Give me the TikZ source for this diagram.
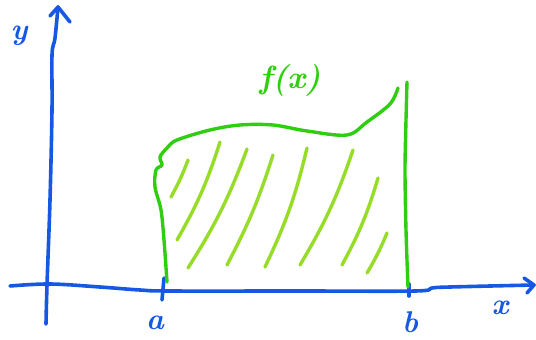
\documentclass[tikz,border=0pt]{standalone}
\usepackage{xcolor}
\definecolor{axisblue}{RGB}{22,88,228}
\definecolor{curvegreen}{RGB}{48,206,16}
\definecolor{hatchgreen}{RGB}{150,220,40}
\begin{document}
\begin{tikzpicture}[x=1pt,y=-1pt,
  axisline/.style={draw=axisblue,line width=3.6pt,line cap=round,line join=round},
  curveline/.style={draw=curvegreen,line width=3.4pt,line cap=round,line join=round},
  hatchline/.style={draw=hatchgreen,line width=3.4pt,line cap=round},
  axislabel/.style={text=axisblue,font=\fontsize{30}{32}\selectfont\bfseries\itshape,inner sep=0pt},
  funclabel/.style={text=curvegreen,font=\fontsize{32}{34}\selectfont\itshape\bfseries,inner sep=0pt}]
\useasboundingbox (0,0) rectangle (536,340);
% named points
\coordinate (xstart) at (10,286);
\coordinate (xend) at (534,285);
\coordinate (ybot) at (46,324);
\coordinate (ytop) at (58,7);
% x-axis
\draw[axisline] plot[smooth,tension=0.6] coordinates {(10,286) (50,284) (100,287) (140,290) (170,291) (300,291) (415,291) (432,288) (450,287) (534,285)};
\draw[axisline] (524,278) -- (xend) -- (527,293);
% y-axis
\draw[axisline] plot[smooth,tension=0.6] coordinates {(46,324) (47,285) (50,200) (52,110) (52,55) (55,38) (58,7)};
\draw[axisline] (50,16) -- (ytop) -- (70,22);
% ticks
\coordinate (ta1) at (164,278);
\coordinate (ta2) at (162,300);
\draw[axisline] (ta1) -- (ta2);
\coordinate (tb1) at (409,284);
\coordinate (tb2) at (409,296);
\draw[axisline] (tb1) -- (tb2);
% labels
\node[axislabel] (ly) at (19,36) {y};
\node[axislabel] (la) at (155,323) {a};
\node[axislabel] (lb) at (410,322) {b};
\node[axislabel] (lx) at (500,308) {x};
\node[funclabel] (lf) at (290,80) {f(x)};
% curve
\draw[curveline] plot[smooth,tension=0.55] coordinates {(167,282) (164,240) (161,210) (155,187) (156,170) (162,165) (160,157) (167,148) (177,140) (210,130) (240,125) (273,125) (307,131) (347,135) (367,122) (390,104) (398,88)};
\draw[curveline] plot[smooth,tension=0.5] coordinates {(407,82) (406,120) (405,170) (406,230) (408,287)};
% hatching
\draw[hatchline] (188,160) to[bend left=4] (171,197);
\draw[hatchline] (220,142) to[bend left=6] (177,240);
\draw[hatchline] (247,149) to[bend left=6] (188,268);
\draw[hatchline] (273,155) to[bend left=5] (227,265);
\draw[hatchline] (307,148) to[bend left=6] (265,267);
\draw[hatchline] (353,150) to[bend left=6] (300,265);
\draw[hatchline] (378,178) to[bend left=6] (342,265);
\draw[hatchline] (387,233) to[bend left=4] (367,273);
\end{tikzpicture}
\end{document}
